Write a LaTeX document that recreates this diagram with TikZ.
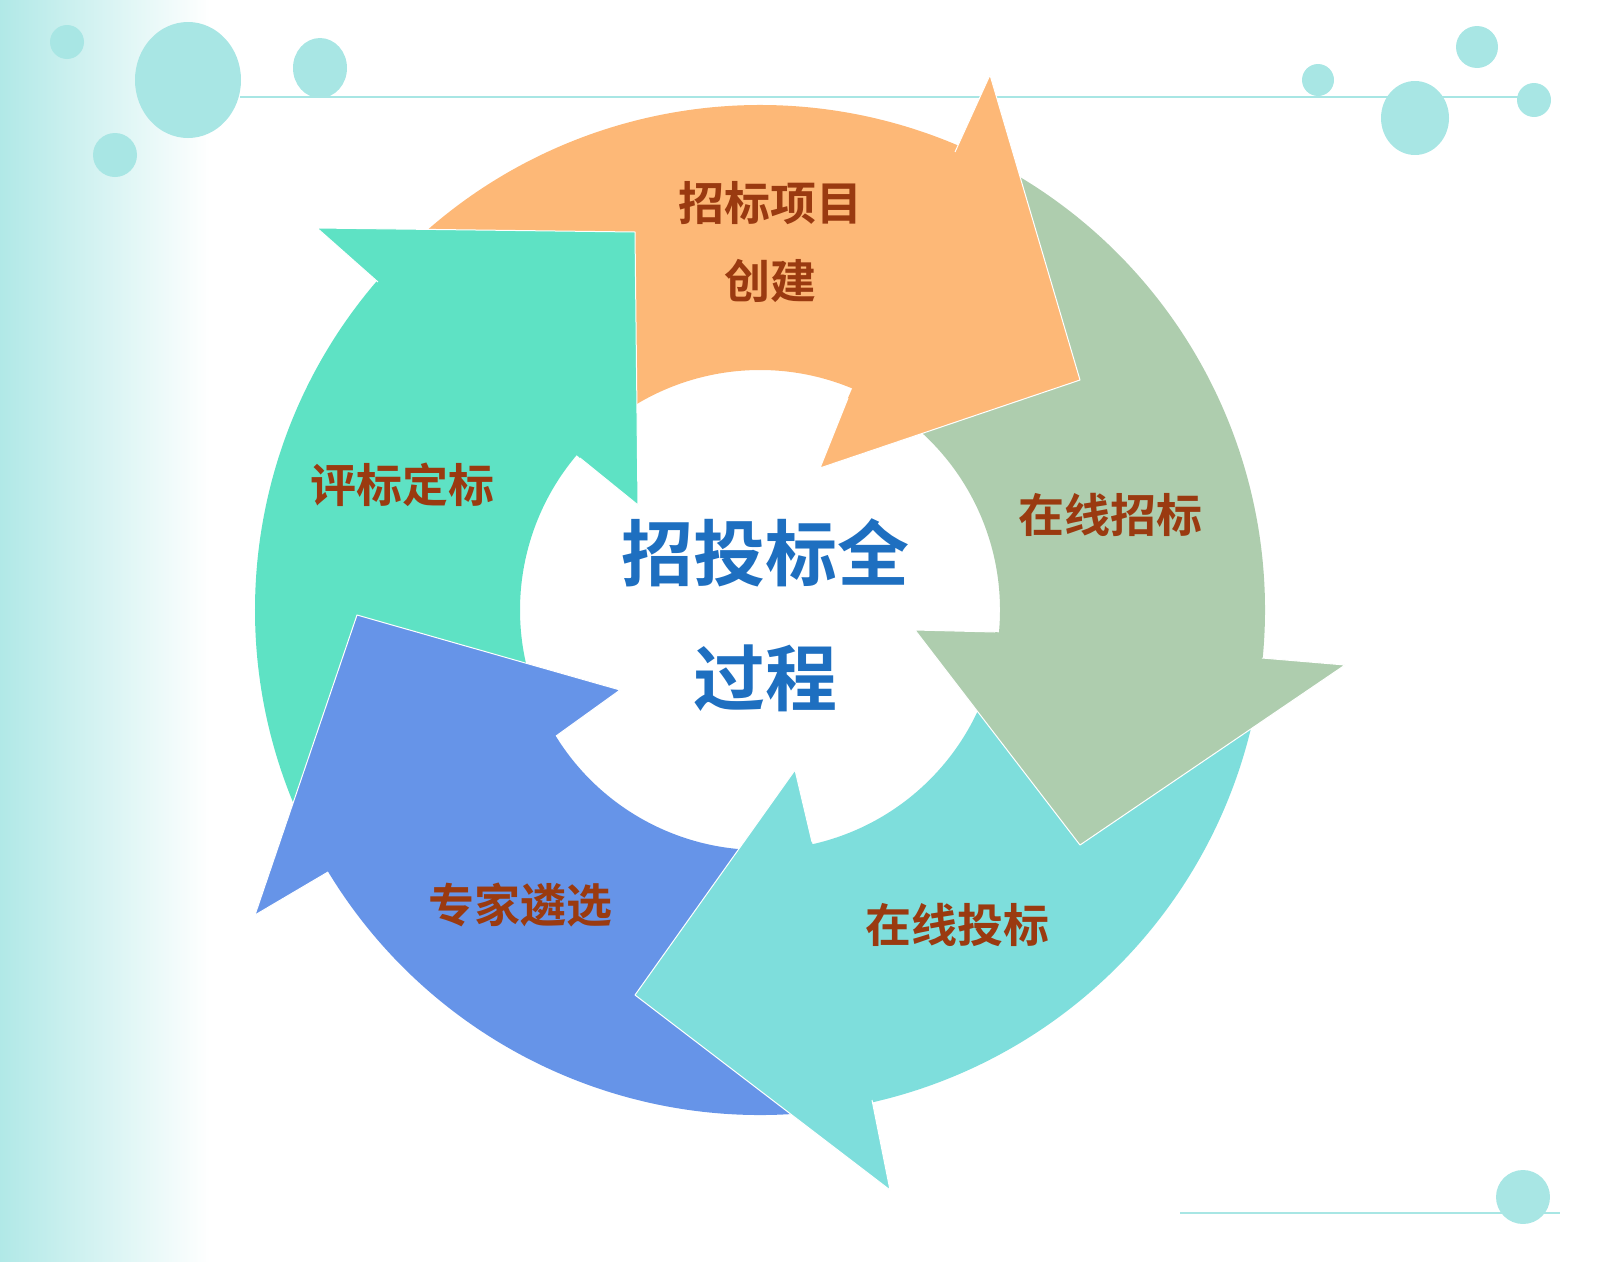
\documentclass[tikz,border=0pt]{standalone}
\usepackage{fontspec}
\usepackage{tikz}
\newfontfamily\cjk{Noto Sans CJK SC}[BoldFont={Noto Sans CJK SC Bold}]
\definecolor{cOrange}{HTML}{FDB877}
\definecolor{cSage}{HTML}{AECDAE}
\definecolor{cTeal}{HTML}{7EDEDC}
\definecolor{cBlue}{HTML}{6694E8}
\definecolor{cGreen}{HTML}{5EE2C4}
\definecolor{cDot}{HTML}{A8E6E4}
\definecolor{cLabel}{HTML}{9A3A10}
\definecolor{cCenter}{HTML}{1E6FC0}
\newcommand\ringpart[3]{\fill[#1] (#2:505) arc[start angle=#2,end angle=#3,radius=505] -- (#3:240) arc[start angle=#3,end angle=#2,radius=240] -- cycle;}
\begin{document}
\begin{tikzpicture}[x=1pt,y=1pt,yscale=-1,
  dot/.style={fill=cDot},
  phase/.style={text=cLabel,font=\cjk\bfseries\fontsize{46}{78}\selectfont,align=center},
  title/.style={text=cCenter,font=\cjk\bfseries\fontsize{72}{125}\selectfont,align=center},
  head/.style={draw=white,line width=1pt,line join=round}]
\useasboundingbox (0,0) rectangle (1600,1261);
\shade[left color=cDot!90,right color=white] (0,0) rectangle (210,1261);
% decoration
\draw[cDot,line width=1.2pt] (240,97) -- (1530,97);
\draw[cDot,line width=1.2pt] (1180,1213) -- (1560,1213);
\fill[dot] (67,42) circle (17);
\fill[dot] (188,80) ellipse (53 and 58);
\fill[dot] (320,68) ellipse (27 and 30);
\fill[dot] (115,155) circle (22);
\fill[dot] (1477,47) circle (21);
\fill[dot] (1318,80) circle (16);
\fill[dot] (1415,118) ellipse (34 and 37);
\fill[dot] (1534,100) circle (17);
\fill[dot] (1523,1197) circle (27);
% ring bodies
\begin{scope}[shift={(760,610)}]
\ringpart{cOrange}{222}{294}
\ringpart{cSage}{295}{366}
\ringpart{cTeal}{8}{78}
\ringpart{cBlue}{80}{149}
\ringpart{cGreen}{150}{221}
\end{scope}
% heads
\filldraw[cOrange,head] (955,152) -- (990,75) -- (1080,380) -- (820,468) -- (848,398);
\filldraw[cSage,head] (1262,658) -- (1345,665) -- (1080,845) -- (915,630) -- (995,632);
\filldraw[cTeal,head] (872,1100) -- (890,1190) -- (635,995) -- (795,770) -- (812,842);
\filldraw[cBlue,head] (328,872) -- (255,915) -- (357,615) -- (620,690) -- (556,736);
\filldraw[cGreen,head] (378,282) -- (317,228) -- (635,232) -- (638,505) -- (580,458);
% labels
\node[phase] (create) at (770,242) {招标项目\\创建};
\node[phase] (tender) at (1110,515) {在线招标};
\node[phase] (bid) at (957,925) {在线投标};
\node[phase] (expert) at (520,905) {专家遴选};
\node[phase] (award) at (402,485) {评标定标};
\node[title] (core) at (765,615) {招投标全\\过程};
\end{tikzpicture}
\end{document}
